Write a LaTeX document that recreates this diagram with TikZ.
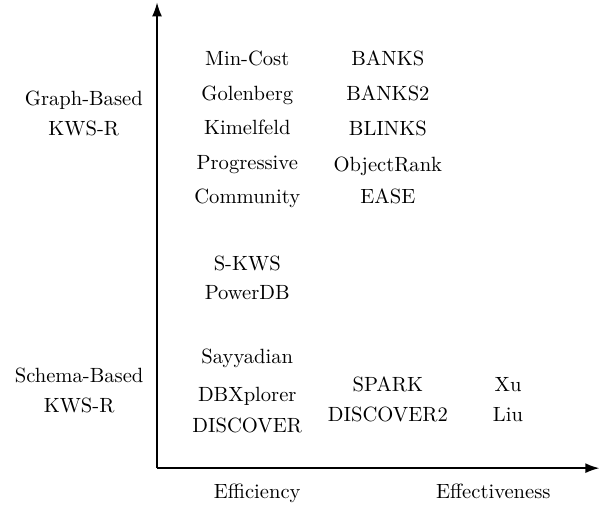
\documentclass[tikz,border=0pt]{standalone}
\usepackage{tikz}
\usetikzlibrary{arrows.meta, positioning}
\tikzset{
    axisline/.style={-{Latex[length=2.4mm, width=1.7mm]}, line width=0.8pt},
    method/.style={anchor=base, inner sep=1pt},
    grouplabel/.style={align=center, anchor=base, inner sep=1pt},
    axislabel/.style={anchor=base, inner sep=1pt}
}
\begin{document}
\begin{tikzpicture}[x=1cm,y=1cm]
    \useasboundingbox (-2.68,-0.65) rectangle (7.56,7.99);
    % axes
    \coordinate (origin) at (0,0);
    \coordinate (ytop) at (0,7.95);
    \coordinate (xend) at (7.55,0);
    \draw[axisline] (origin) -- (ytop);
    \draw[axisline] (origin) -- (xend);

    % group labels
    \node[grouplabel] (graphbased) at (-1.25,5.68) {Graph-Based\\[2.6pt]KWS-R};
    \node[grouplabel] (schemabased) at (-1.33,0.95) {Schema-Based\\[2.6pt]KWS-R};

    % graph-based, efficiency
    \node[method] (mincost) at (1.54,6.88) {Min-Cost};
    \node[method] (golenberg) at (1.54,6.28) {Golenberg};
    \node[method] (kimelfeld) at (1.54,5.69) {Kimelfeld};
    \node[method] (progressive) at (1.54,5.10) {Progressive};
    \node[method] (community) at (1.54,4.51) {Community};

    % graph-based, effectiveness
    \node[method] (banks) at (3.94,6.88) {BANKS};
    \node[method] (banks2) at (3.94,6.28) {BANKS2};
    \node[method] (blinks) at (3.94,5.67) {BLINKS};
    \node[method] (objectrank) at (3.94,5.07) {ObjectRank};
    \node[method] (ease) at (3.94,4.51) {EASE};

    % in between
    \node[method] (skws) at (1.54,3.38) {S-KWS};
    \node[method] (powerdb) at (1.54,2.87) {PowerDB};

    % schema-based, efficiency
    \node[method] (sayyadian) at (1.54,1.78) {Sayyadian};
    \node[method] (dbxplorer) at (1.54,1.13) {DBXplorer};
    \node[method] (discover) at (1.54,0.61) {DISCOVER};

    % schema-based, effectiveness
    \node[method] (spark) at (3.94,1.30) {SPARK};
    \node[method] (discover2) at (3.94,0.79) {DISCOVER2};
    \node[method] (xu) at (5.99,1.30) {Xu};
    \node[method] (liu) at (5.99,0.79) {Liu};

    % axis labels
    \node[axislabel] (efficiency) at (1.71,-0.51) {Efficiency};
    \node[axislabel] (effectiveness) at (5.74,-0.51) {Effectiveness};
\end{tikzpicture}
\end{document}
